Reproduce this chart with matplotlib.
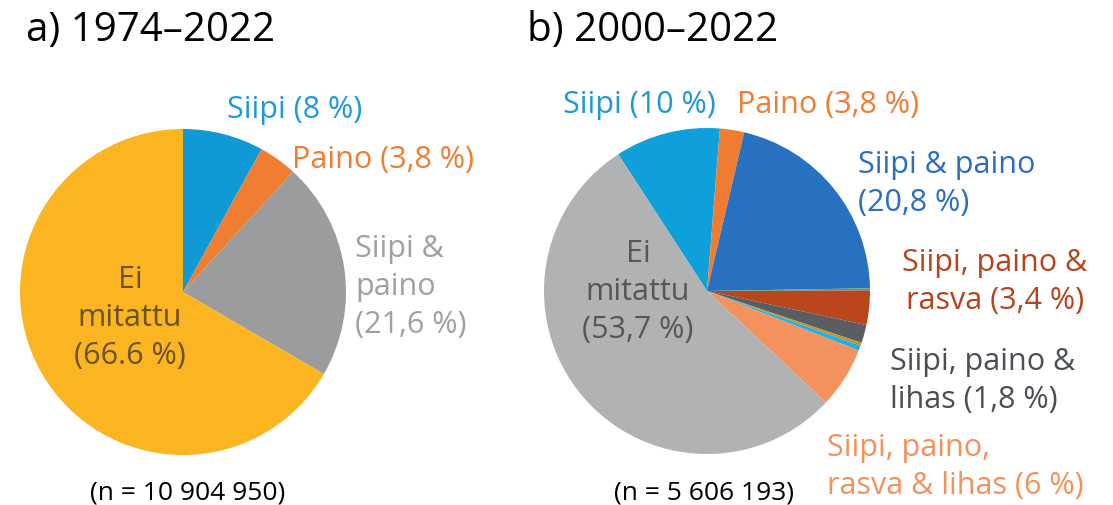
import matplotlib.pyplot as plt

plt.rcParams['font.family'] = ['Open Sans', 'DejaVu Sans']

# a) 1974-2022
a_labels = ["Siipi", "Paino", "Siipi & paino", "Ei mitattu"]
a_values = [8.0, 3.8, 21.6, 66.6]
a_colors = ["#0f9ad6", "#ef7d32", "#9a9c9e", "#fbb520"]

# b) 2000-2022 (slice sizes as drawn; small unlabelled slivers included)
b_labels = ["Siipi", "Paino", "Siipi & paino", "muu 1", "Siipi, paino & rasva",
            "Siipi, paino & lihas", "muu 2", "muu 3",
            "Siipi, paino, rasva & lihas", "Ei mitattu"]
b_values = [10.4, 2.4, 21.0, 0.2, 3.4, 1.8, 0.3, 0.5, 6.0, 53.7]
b_colors = ["#0f9fdb", "#ef7d31", "#2870c0", "#3aa88a", "#b9461d",
            "#5a5e62", "#c7951f", "#1fb0ea", "#f4925e", "#b1b2b3"]

W, H = 1113, 506
fig = plt.figure(figsize=(W / 100, H / 100), dpi=100)


def fx(x):
    return x / W


def fy(y):
    return 1 - y / H


def pie_axes(cx, cy, r):
    ax = fig.add_axes([fx(cx - r), fy(cy + r), 2 * r / W, 2 * r / H])
    return ax


def finish(ax):
    # pie() resets the limits to +-1.25, so set them afterwards
    ax.set_xlim(-1, 1)
    ax.set_ylim(-1, 1)
    ax.axis('off')


ax1 = pie_axes(183, 293, 163)
ax1.pie(a_values, colors=a_colors, startangle=90, counterclock=False,
        radius=1, wedgeprops=dict(linewidth=0))
finish(ax1)

ax2 = pie_axes(707, 292, 163)
ax2.pie(b_values, colors=b_colors, startangle=123, counterclock=False,
        radius=1, wedgeprops=dict(linewidth=0))
finish(ax2)

fs = 22
ls = 1.34

# titles
fig.text(fx(26), fy(31), "a) 1974–2022", fontsize=29, va='center', ha='left')
fig.text(fx(527), fy(31), "b) 2000–2022", fontsize=29, va='center', ha='left')

# labels a
fig.text(fx(295), fy(110), "Siipi (8 %)", color="#1b9ad6", fontsize=fs, ha='center', va='center')
fig.text(fx(383), fy(160), "Paino (3,8 %)", color="#ef7d32", fontsize=fs, ha='center', va='center')
fig.text(fx(355), fy(287), "Siipi &\npaino\n(21,6 %)", color="#9fa0a2", fontsize=fs,
         ha='left', va='center', linespacing=ls)
fig.text(fx(130), fy(318), "Ei\nmitattu\n(66.6 %)", color="#6b5220", fontsize=fs,
         ha='center', va='center', linespacing=ls, multialignment='center')
fig.text(fx(188), fy(493), "(n = 10 904 950)", color="black", fontsize=19, ha='center', va='center')

# labels b
fig.text(fx(639), fy(105), "Siipi (10 %)", color="#1b9ad6", fontsize=fs, ha='center', va='center')
fig.text(fx(828), fy(105), "Paino (3,8 %)", color="#ef7d32", fontsize=fs, ha='center', va='center')
fig.text(fx(858), fy(184), "Siipi & paino\n(20,8 %)", color="#2a6ebd", fontsize=fs,
         ha='left', va='center', linespacing=ls)
fig.text(fx(995), fy(282), "Siipi, paino &\nrasva (3,4 %)", color="#b5441c", fontsize=fs,
         ha='center', va='center', linespacing=ls, multialignment='center')
fig.text(fx(890), fy(381), "Siipi, paino &\nlihas (1,8 %)", color="#4a4f55", fontsize=fs,
         ha='left', va='center', linespacing=ls)
fig.text(fx(827), fy(467), "Siipi, paino,\nrasva & lihas (6 %)", color="#f4915a", fontsize=fs,
         ha='left', va='center', linespacing=ls)
fig.text(fx(638), fy(292), "Ei\nmitattu\n(53,7 %)", color="#555759", fontsize=fs,
         ha='center', va='center', linespacing=ls, multialignment='center')
fig.text(fx(704), fy(493), "(n = 5 606 193)", color="black", fontsize=19, ha='center', va='center')

fig.savefig("out.png", dpi=100)
